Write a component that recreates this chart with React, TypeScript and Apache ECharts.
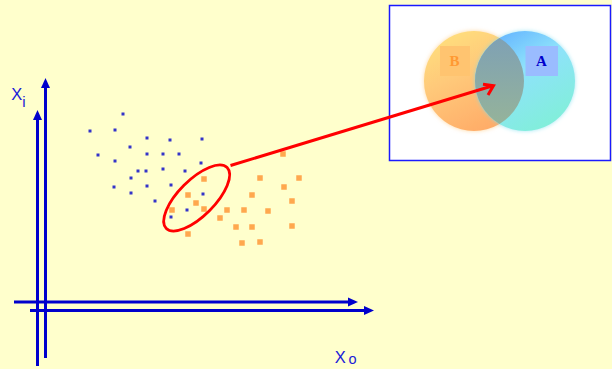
import React, { useEffect, useRef } from "react";
import * as echarts from "echarts";

// Sample cloud in screen units (x to the right, y downward)
const bluePoints: [number, number][] = [
  [123, 114], [90, 131], [115, 130], [147, 138], [170, 140], [202, 139],
  [130, 147], [98, 155], [147, 154], [163, 154], [179, 154], [115, 161],
  [201, 163], [138, 171], [146, 171], [163, 169], [185, 171], [131, 178],
  [114, 187], [131, 193], [147, 186], [171, 185], [155, 201], [203, 194],
  [187, 210], [171, 217],
];

const orangePoints: [number, number][] = [
  [283, 154], [204, 179], [260, 178], [299, 178], [284, 187], [188, 195],
  [252, 195], [196, 203], [292, 201], [172, 210], [204, 209], [227, 210],
  [244, 210], [268, 211], [220, 218], [236, 227], [252, 227], [292, 226],
  [188, 234], [242, 243], [260, 242],
];

const axisLabels = { vertical: ["X", "i"], horizontal: ["X", "o"] };
const setLabels = ["B", "A"];

const W = 612;
const H = 369;
const BLUE = "#0000cc";
const LABEL_BLUE = "#1a1ad8";
const RED = "#ff0000";

const circleB = { cx: 474, cy: 81, r: 50 };
const circleA = { cx: 525, cy: 81, r: 50 };

// lens shaped overlap of the two set circles
function lensPath(): string {
  const d = circleA.cx - circleB.cx;
  const mx = circleB.cx + d / 2;
  const h = Math.sqrt(circleB.r * circleB.r - (d / 2) * (d / 2));
  const top = circleB.cy - h;
  const bot = circleB.cy + h;
  const r = circleB.r;
  return `M${mx} ${top} A${r} ${r} 0 0 1 ${mx} ${bot} A${r} ${r} 0 0 1 ${mx} ${top} Z`;
}

let lensRegistered = false;

function arrowUp(x: number, tipY: number, len: number, half: number, z: number) {
  return {
    type: "polygon",
    z,
    shape: { points: [[x, tipY], [x - half, tipY + len], [x + half, tipY + len]] },
    style: { fill: BLUE },
  };
}

function arrowRight(tipX: number, y: number, len: number, half: number, z: number) {
  return {
    type: "polygon",
    z,
    shape: { points: [[tipX, y], [tipX - len, y - half], [tipX - len, y + half]] },
    style: { fill: BLUE },
  };
}

function seg(x1: number, y1: number, x2: number, y2: number, color: string, w: number, z: number) {
  return {
    type: "line",
    z,
    shape: { x1, y1, x2, y2 },
    style: { stroke: color, lineWidth: w },
  };
}

function label(text: string, x: number, baseline: number, size: number, color: string, family: string, weight = "normal", z = 8) {
  return {
    type: "text",
    z,
    x,
    y: baseline - 0.31 * size,
    style: {
      text,
      fill: color,
      fontSize: size,
      fontFamily: family,
      fontWeight: weight,
      align: "left",
      verticalAlign: "middle",
      textAlign: "left",
      textVerticalAlign: "middle",
    },
  };
}

export default function App() {
  const ref = useRef<HTMLDivElement>(null);

  useEffect(() => {
    if (!ref.current) return;
    if (!lensRegistered) {
      echarts.graphic.registerShape("lens", echarts.graphic.extendPath(lensPath(), {}));
      lensRegistered = true;
    }
    const chart = echarts.init(ref.current, undefined, { renderer: "svg" });

    const sans = '"Liberation Sans", Arial, sans-serif';
    const serif = '"Liberation Serif", "Times New Roman", serif';

    const graphic: any[] = [
      // coordinate axes (two offset pairs)
      seg(37.5, 366, 37.5, 118, BLUE, 3, 1),
      arrowUp(37.5, 110, 10, 4.5, 1),
      seg(45.5, 358, 45.5, 86, BLUE, 3, 1),
      arrowUp(45.5, 78, 10, 4.5, 1),
      seg(14, 302, 350, 302, BLUE, 3, 1),
      arrowRight(358, 302, 10, 4.5, 1),
      seg(30, 310.5, 366, 310.5, BLUE, 3, 1),
      arrowRight(374, 310.5, 10, 4.5, 1),

      label(axisLabels.vertical[0], 11.2, 98.8, 16.5, LABEL_BLUE, sans),
      label(axisLabels.vertical[1], 22.3, 106, 15, LABEL_BLUE, sans),
      label(axisLabels.horizontal[0], 334.7, 361.7, 16.5, LABEL_BLUE, sans),
      label(axisLabels.horizontal[1], 348.5, 363.5, 14.5, LABEL_BLUE, sans),

      // inset with the two sets
      {
        type: "rect",
        z: 1,
        shape: { x: 389.5, y: 5.5, width: 221, height: 155 },
        style: { fill: "#ffffff", stroke: "#1a1aff", lineWidth: 1.5 },
      },
      {
        type: "circle",
        z: 2,
        shape: { cx: circleB.cx, cy: circleB.cy, r: circleB.r },
        style: {
          fill: new echarts.graphic.LinearGradient(0.1, 0, 0.6, 1, [
            { offset: 0, color: "#ffe27c" },
            { offset: 0.45, color: "#ffc97a" },
            { offset: 1, color: "#ffac68" },
          ]),
          shadowBlur: 4,
          shadowColor: "rgba(255,200,120,0.7)",
        },
      },
      {
        type: "circle",
        z: 3,
        shape: { cx: circleA.cx, cy: circleA.cy, r: circleA.r },
        style: {
          fill: new echarts.graphic.LinearGradient(0.2, 0, 0.8, 1, [
            { offset: 0, color: "#62b2ff" },
            { offset: 0.4, color: "#8ee2fb" },
            { offset: 1, color: "#80f0d6" },
          ]),
          shadowBlur: 4,
          shadowColor: "rgba(120,220,240,0.7)",
        },
      },
      {
        type: "lens",
        z: 4,
        x: 0,
        y: 0,
        style: {
          fill: new echarts.graphic.LinearGradient(0, 0, 0, 1, [
            { offset: 0, color: "#7fa1b4" },
            { offset: 1, color: "#95b39a" },
          ]),
        },
      },
      {
        type: "rect",
        z: 5,
        shape: { x: 440, y: 46, width: 30, height: 30 },
        style: { fill: "#ffc470" },
      },
      {
        type: "rect",
        z: 5,
        shape: { x: 525.5, y: 46, width: 32.5, height: 30 },
        style: { fill: "#9abcff" },
      },
      label(setLabels[0], 449.5, 65.5, 15, "#ff9933", serif, "bold", 6),
      label(setLabels[1], 536, 65.5, 15, "#0000cc", serif, "bold", 6),

      // highlighted region and pointer to the overlap
      {
        type: "ellipse",
        z: 10,
        x: 196.7,
        y: 198,
        rotation: Math.PI / 4,
        shape: { cx: 0, cy: 0, rx: 43, ry: 18 },
        style: { fill: "none", stroke: RED, lineWidth: 2.8 },
      },
      seg(230.5, 165.5, 492, 86, RED, 3, 10),
      {
        type: "polyline",
        z: 10,
        shape: { points: [[483, 84.2], [493.5, 85.6], [488, 95]] },
        style: { stroke: RED, lineWidth: 3, fill: "none" },
      },
    ];

    chart.setOption({
      animation: false,
      backgroundColor: "#ffffcc",
      grid: { left: 0, right: 0, top: 0, bottom: 0 },
      xAxis: { type: "value", min: 0, max: W, show: false },
      yAxis: { type: "value", min: 0, max: H, inverse: true, show: false },
      series: [
        {
          type: "scatter",
          data: bluePoints,
          symbol: "rect",
          symbolSize: 3,
          itemStyle: { color: "#0000c8" },
          silent: true,
        },
        {
          type: "scatter",
          data: orangePoints,
          symbol: "rect",
          symbolSize: 5.5,
          itemStyle: { color: "#ff922e" },
          silent: true,
        },
      ],
      graphic,
    });

    return () => chart.dispose();
  }, []);

  return (
    <div
      ref={ref}
      style={{ position: "fixed", left: 0, top: 0, width: W, height: H }}
    />
  );
}
